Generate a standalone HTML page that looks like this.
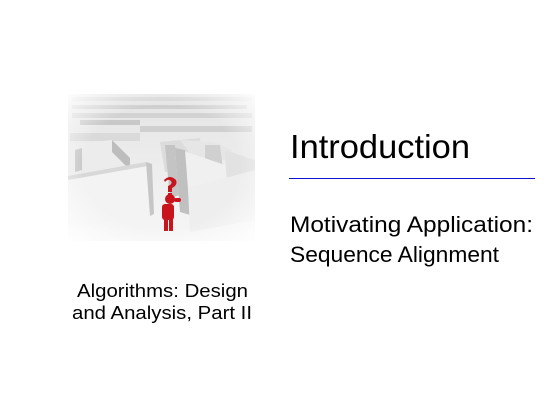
<!DOCTYPE html>
<html><head><style>
html,body{margin:0;padding:0;background:#fff;}
svg{display:block;}
text{font-family:"Liberation Sans",sans-serif;fill:#000;}
</style></head><body>
<svg width="552" height="413" viewBox="0 0 552 413" xmlns="http://www.w3.org/2000/svg">
<defs>
<linearGradient id="fl" x1="0" y1="0" x2="0" y2="1">
<stop offset="0" stop-color="#e4e4e4"/><stop offset="1" stop-color="#f6f6f6"/>
</linearGradient>
<radialGradient id="fade" cx="0.5" cy="0.5" r="0.7">
<stop offset="0.6" stop-color="#fff" stop-opacity="0"/><stop offset="1" stop-color="#fff" stop-opacity="0.9"/>
</radialGradient>
</defs>
<g>
<rect x="68" y="94" width="187" height="147" fill="url(#fl)"/>
<rect x="72" y="97" width="180" height="4" fill="#d6d6d6"/>
<rect x="72" y="105" width="175" height="4" fill="#cfcfcf"/>
<rect x="72" y="113" width="180" height="5" fill="#d2d2d2"/>
<rect x="80" y="120" width="60" height="5" fill="#c8c8c8"/>
<rect x="140" y="126" width="112" height="6" fill="#d0d0d0"/>
<rect x="70" y="133" width="70" height="8" fill="#dadada"/>
<polygon points="68,145 112,140 130,160 130,170 80,178 68,176" fill="#ececec"/>
<polygon points="75,150 82,148 82,170 75,172" fill="#cacaca"/>
<polygon points="112,140 130,158 130,170 112,152" fill="#bdbdbd"/>
<polygon points="160,142 200,138 202,170 165,172" fill="#dcdcdc"/>
<polygon points="165,145 175,145 180,195 170,198" fill="#c4c4c4"/>
<polygon points="180,140 214,142 232,150 230,160 195,160" fill="#e6e6e6"/>
<polygon points="205,145 220,145 225,185 205,190" fill="#d0d0d0"/>
<polygon points="225,150 255,160 255,200 228,205" fill="#e2e2e2"/>
<polygon points="175,148 225,165 230,205 180,210" fill="#f0f0f0"/>
<polygon points="175,148 185,150 190,215 180,212" fill="#c0c0c0"/>
<polygon points="68,178 148,165 150,215 68,228" fill="#f3f3f3"/>
<polygon points="68,176 146,162 148,166 68,180" fill="#d8d8d8"/>
<polygon points="146,162 152,164 154,214 150,216" fill="#c6c6c6"/>
<polygon points="188,188 255,170 255,220 190,232" fill="#eeeeee"/>
<g fill="#c8141c">
<ellipse cx="170" cy="199" rx="5" ry="5"/>
<rect x="162" y="204" width="12" height="16" rx="3"/>
<rect x="164" y="218" width="4" height="13"/>
<rect x="169" y="218" width="4" height="13"/>
<path d="M164,180 q6,-6 12,0 q2,5 -4,8 l0,4 l-4,0 l0,-6 q5,-2 3,-5 q-3,-3 -6,1 z"/>
<rect x="168" y="193" width="4" height="3"/>
<rect x="174" y="198" width="7" height="4" rx="2"/>
</g>
<rect x="68" y="94" width="187" height="147" fill="url(#fade)"/>
</g>
<text x="290" y="158" font-size="33" textLength="180" lengthAdjust="spacingAndGlyphs">Introduction</text>
<rect x="289" y="178" width="246" height="1" fill="#1010d0"/>
<text x="290" y="232" font-size="22" textLength="243" lengthAdjust="spacingAndGlyphs">Motivating Application:</text>
<text x="290" y="262" font-size="22" textLength="209" lengthAdjust="spacingAndGlyphs">Sequence Alignment</text>
<text x="77" y="297" font-size="18" textLength="171" lengthAdjust="spacingAndGlyphs">Algorithms: Design</text>
<text x="72" y="319" font-size="18" textLength="180" lengthAdjust="spacingAndGlyphs">and Analysis, Part II</text>
</svg>
</body></html>
